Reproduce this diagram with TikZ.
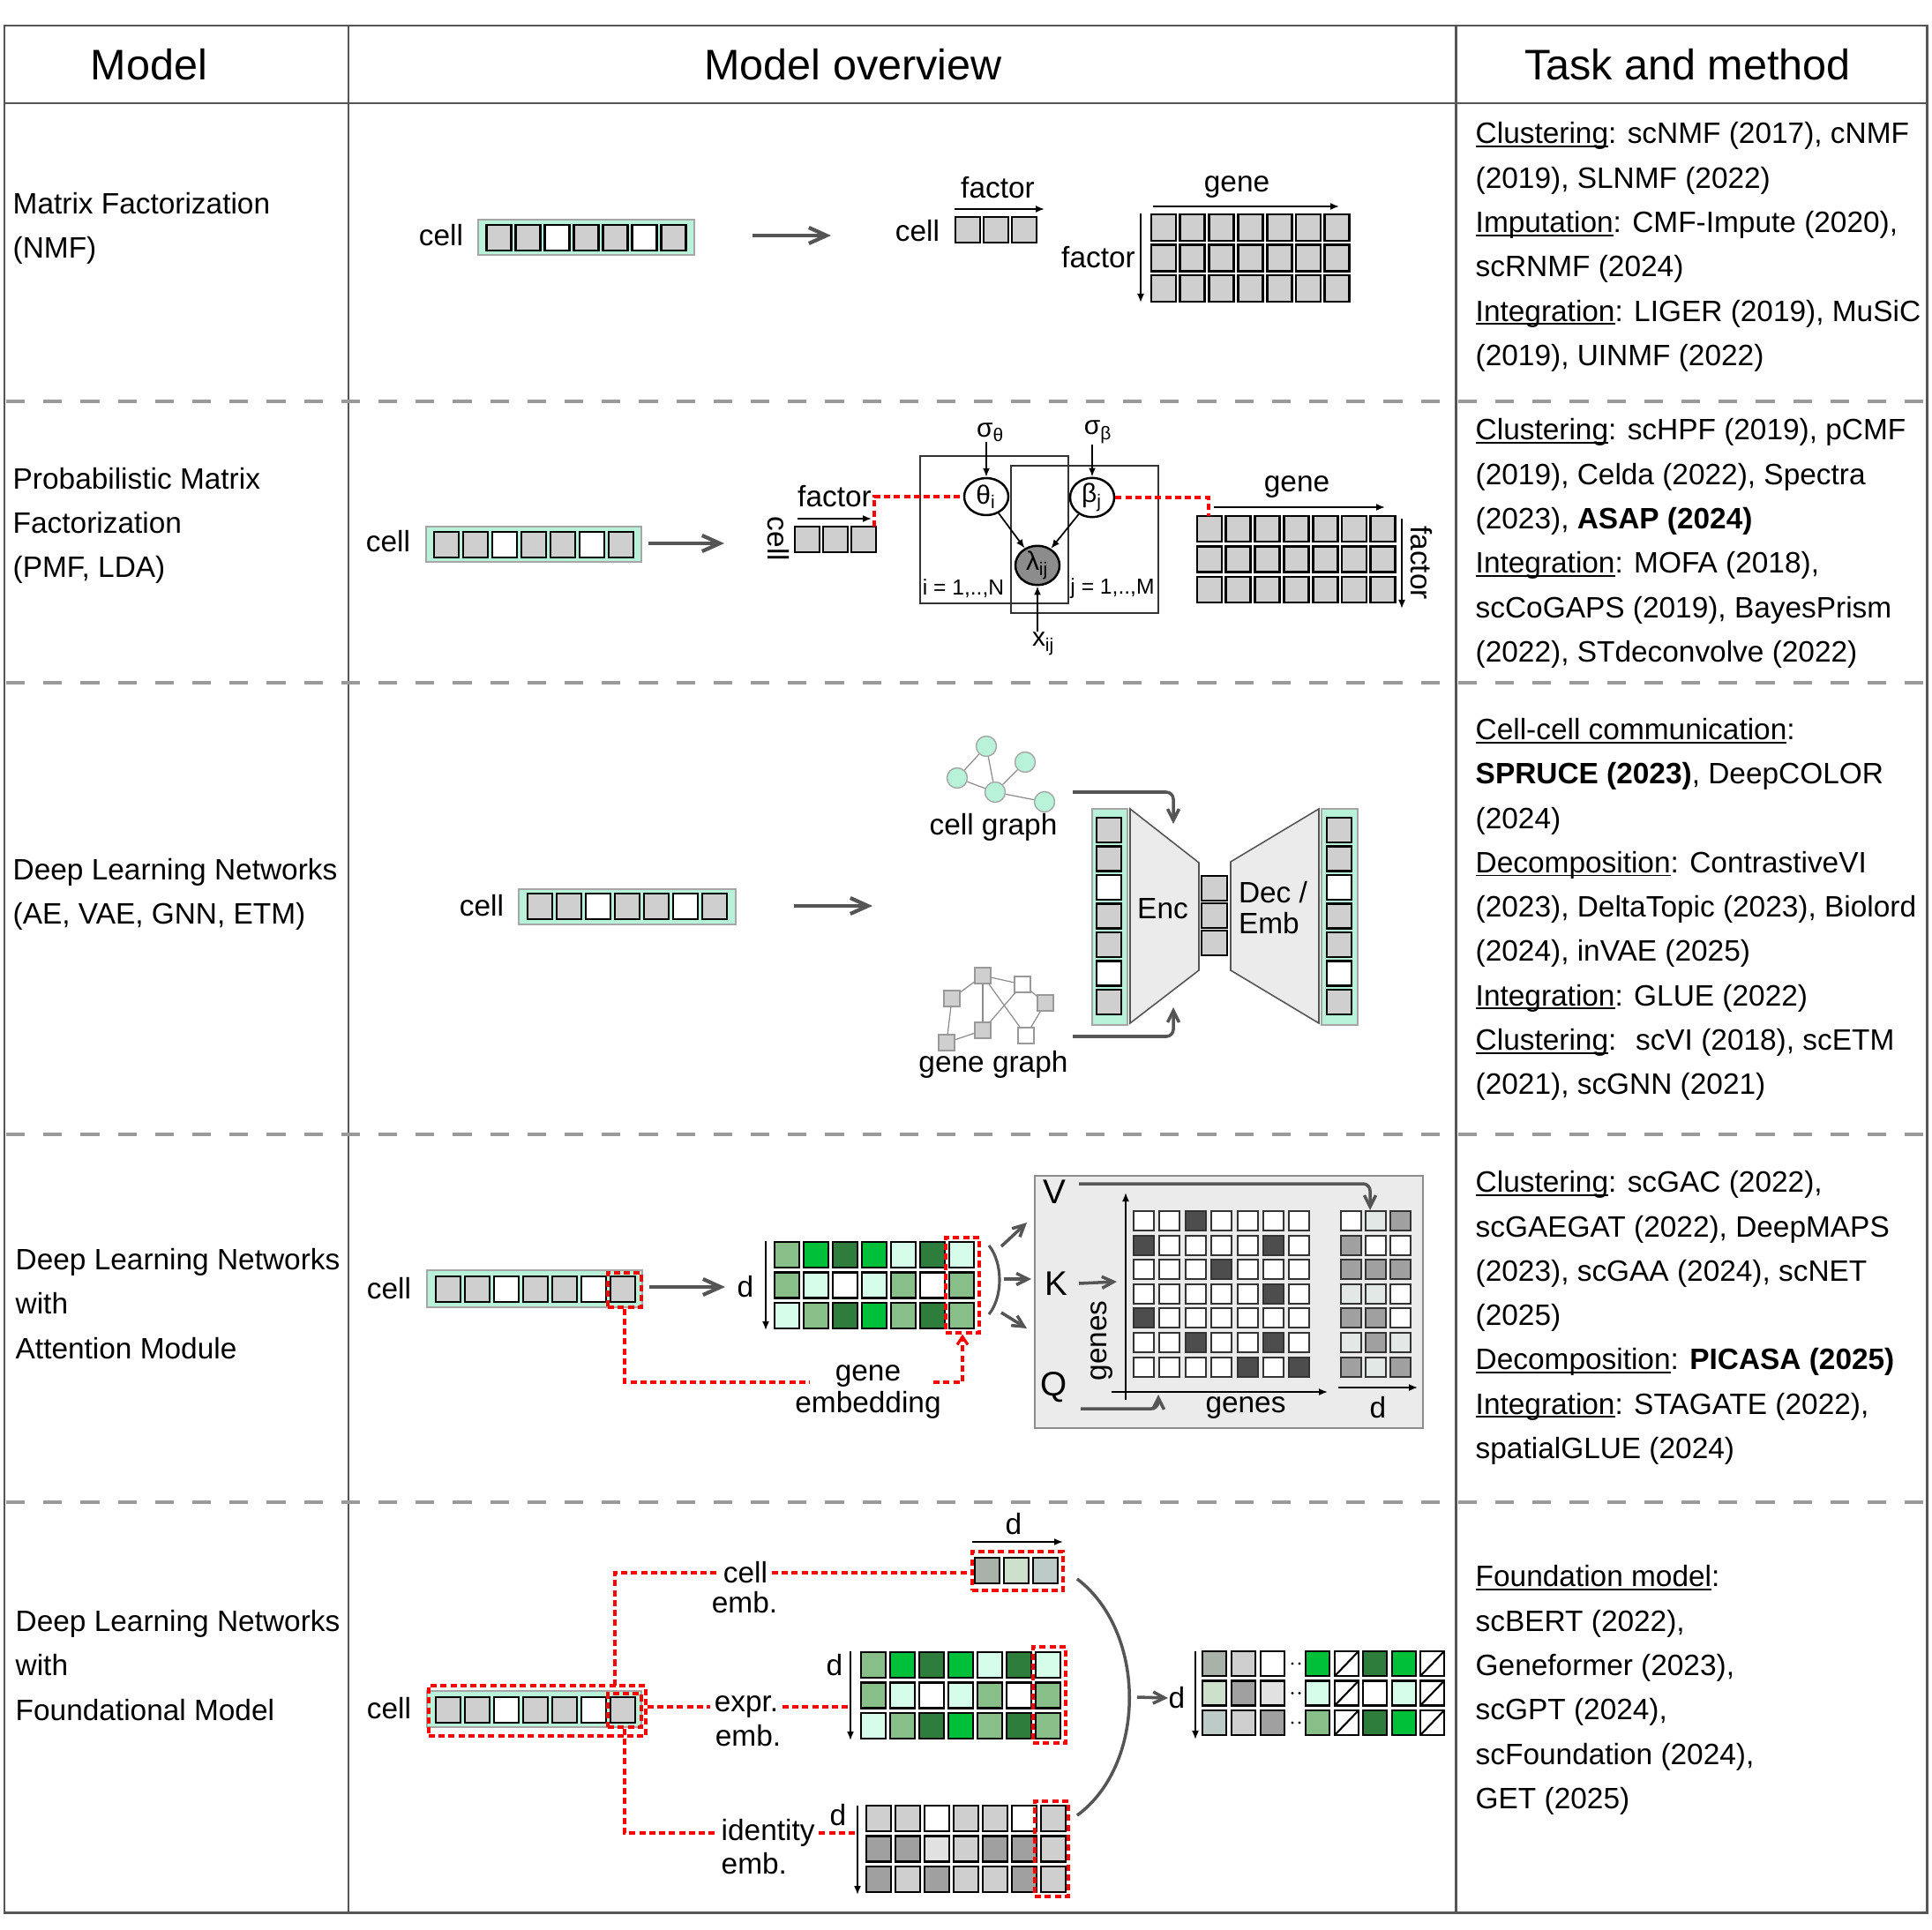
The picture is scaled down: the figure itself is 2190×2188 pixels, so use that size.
\documentclass[tikz,border=0pt]{standalone}
\usepackage{fontspec}
\setmainfont{Liberation Sans}
\usepackage{xcolor}
\usepackage{tikz}
\usetikzlibrary{arrows.meta}
\usetikzlibrary{shapes.geometric}
\usetikzlibrary{positioning}

\definecolor{mintbg}{HTML}{B8F2D8}
\definecolor{cgray}{HTML}{CFCFCF}
\definecolor{cmid}{HTML}{A0A0A0}
\definecolor{clight}{HTML}{E1E1E1}
\definecolor{vlight}{HTML}{E2E8E6}
\definecolor{gmed}{HTML}{88BF88}
\definecolor{gbri}{HTML}{00BF38}
\definecolor{gdark}{HTML}{2E7D3C}
\definecolor{gmint}{HTML}{D6FCEA}
\definecolor{adark}{HTML}{4D4D4D}
\definecolor{linegray}{HTML}{555555}
\definecolor{sepgray}{HTML}{9A9A9A}
\definecolor{panel}{HTML}{EBEBEB}
\definecolor{lamgray}{HTML}{8C8C8C}
\definecolor{ce1}{HTML}{A8B2A8}
\definecolor{ce2}{HTML}{CCE0CC}
\definecolor{ce3}{HTML}{BCCAC8}
\colorlet{aw}{white}
\colorlet{ak}{adark}

\newsavebox{\ulbox}
\newcommand{\ultxt}[1]{\sbox{\ulbox}{#1}\rlap{\rule[-0.12em]{\wd\ulbox}{0.055em}}\usebox{\ulbox}}

\begin{document}
\begin{tikzpicture}[x=0.01cm, y=-0.01cm,
  txt/.style={font=\fontsize{9.5}{14.3}\selectfont, inner sep=0pt},
  headtxt/.style={font=\fontsize{13.8}{16}\selectfont, inner sep=0pt},
  subtxt/.style={font=\fontsize{8.5}{10}\selectfont, inner sep=0pt},
  platetxt/.style={font=\fontsize{7}{8}\selectfont, inner sep=0pt},
  vkq/.style={font=\fontsize{11}{12}\selectfont, inner sep=0pt},
  emblab/.style={txt, inner xsep=0.04cm},
  cellbox/.style={draw=black, line width=0.8pt},
  attbox/.style={draw=black!80, line width=0.6pt},
  greenbg/.style={fill=mintbg, draw=black!35, line width=0.5pt},
  redbox/.style={draw=red, line width=0.9pt, dash pattern=on 2pt off 1.2pt, inner sep=0pt},
  reddash/.style={draw=red, line width=0.9pt, dash pattern=on 2pt off 1.2pt},
  bigarrow/.style={draw=linegray, line width=1.2pt, -{Straight Barb[length=2mm,width=1.8mm]}},
  grayarrow/.style={draw=linegray, line width=1pt, rounded corners=0.08cm, -{Straight Barb[length=1.3mm,width=1.3mm]}},
  thinarrow/.style={draw=black, line width=0.5pt, -{Latex[length=1mm,width=0.8mm]}},
  plate/.style={draw=black!80, line width=0.45pt},
  rv/.style={ellipse, draw=black, line width=0.7pt, minimum width=0.5cm, minimum height=0.42cm, inner sep=0pt, font=\fontsize{8.5}{10}\selectfont},
  gnode/.style={circle, fill=mintbg, draw=black!35, line width=0.4pt, minimum size=0.23cm, inner sep=0pt},
  gsq/.style={rectangle, draw=black!40, line width=0.4pt, minimum size=0.18cm, inner sep=0pt},
  gedge/.style={draw=black!45, line width=0.35pt},
  rowsep/.style={draw=sepgray, line width=1pt, dash pattern=on 6pt off 6pt},
  tableline/.style={draw=linegray, line width=0.85pt}
]
\useasboundingbox (0,0) rectangle (2190,2188);

% table
\draw[tableline] (5,29) rectangle (2184,2168);
\draw[tableline] (5,117) -- (2184,117);
\draw[tableline] (395,29) -- (395,2168);
\draw[tableline] (1650,29) -- (1650,2168);
\foreach \y in {455,774,1286,1703}
  \draw[rowsep] (7,\y) -- (2182,\y);

\node[headtxt] (hmodel) at (169,73) {Model};
\node[headtxt] (hview) at (967,73) {Model overview};
\node[headtxt] (htask) at (1913,73) {Task and method};

% model names
\node[txt, anchor=west, align=left] (m1) at (14,259) {Matrix Factorization\\(NMF)};
\node[txt, anchor=west, align=left] (m2) at (14,596) {Probabilistic Matrix\\Factorization\\(PMF, LDA)};
\node[txt, anchor=west, align=left] (m3) at (14,1014) {Deep Learning Networks\\(AE, VAE, GNN, ETM)};
\node[txt, anchor=west, align=left] (m4) at (17,1478) {Deep Learning Networks\\with\\Attention Module};
\node[txt, anchor=west, align=left] (m5) at (17,1888) {Deep Learning Networks\\with\\Foundational Model};

% tasks and methods
\node[txt, anchor=west, align=left] (t1) at (1672,280) {\ultxt{Clustering}: scNMF (2017), cNMF\\(2019), SLNMF (2022)\\\ultxt{Imputation}: CMF-Impute (2020),\\scRNMF (2024)\\\ultxt{Integration}: LIGER (2019), MuSiC\\(2019), UINMF (2022)};
\node[txt, anchor=west, align=left] (t2) at (1672,616) {\ultxt{Clustering}: scHPF (2019), pCMF\\(2019), Celda (2022), Spectra\\(2023), \textbf{ASAP (2024)}\\\ultxt{Integration}: MOFA (2018),\\scCoGAPS (2019), BayesPrism\\(2022), STdeconvolve (2022)};
\node[txt, anchor=west, align=left] (t3) at (1672,1031) {\ultxt{Cell-cell communication}:\\\textbf{SPRUCE (2023)}, DeepCOLOR\\(2024)\\\ultxt{Decomposition}: ContrastiveVI\\(2023), DeltaTopic (2023), Biolord\\(2024), inVAE (2025)\\\ultxt{Integration}: GLUE (2022)\\\ultxt{Clustering}: \ scVI (2018), scETM\\(2021), scGNN (2021)};
\node[txt, anchor=west, align=left] (t4) at (1672,1494) {\ultxt{Clustering}: scGAC (2022),\\scGAEGAT (2022), DeepMAPS\\(2023), scGAA (2024), scNET\\(2025)\\\ultxt{Decomposition}: \textbf{PICASA (2025)}\\\ultxt{Integration}: STAGATE (2022),\\spatialGLUE (2024)};
\node[txt, anchor=west, align=left] (t5) at (1672,1916) {\ultxt{Foundation model}:\\scBERT (2022),\\Geneformer (2023),\\scGPT (2024),\\scFoundation (2024),\\GET (2025)};

%row 1: NMF
\node[txt] (c1) at (500,267) {cell};
\draw[greenbg] (542,249) rectangle (787,289);
\foreach \i/\cc in {0/cgray,1/cgray,2/white,3/cgray,4/cgray,5/white,6/cgray}
  \draw[cellbox, fill=\cc] (551.5+\i*33,255) rectangle ++(28,29);
\coordinate (a1s) at (853,267);
\coordinate (a1e) at (942,267);
\draw[bigarrow] (a1s) -- (a1e);
\node[txt] (c1b) at (1040,262) {cell};
\foreach \i in {0,1,2}
  \draw[cellbox, fill=cgray] (1083+\i*32,246) rectangle ++(28,29);
\node[txt] (f1) at (1131,213) {factor};
\coordinate (f1s) at (1082,237);
\coordinate (f1e) at (1184,237);
\draw[thinarrow] (f1s) -- (f1e);
\node[txt] (g1) at (1402,212) {gene};
\coordinate (g1s) at (1307,234);
\coordinate (g1e) at (1518,234);
\draw[thinarrow] (g1s) -- (g1e);
\foreach \r in {0,1,2}
  \foreach \i in {0,...,6}
    \draw[cellbox, fill=cgray] (1305+\i*32.8,243+\r*34.5) rectangle ++(28,30);
\node[txt] (f1b) at (1245,292) {factor};
\coordinate (v1s) at (1293,242);
\coordinate (v1e) at (1293,343);
\draw[thinarrow] (v1s) -- (v1e);

%row 2: PMF
\node[txt] (c2) at (440,614) {cell};
\draw[greenbg] (483,597) rectangle (727,637);
\foreach \i/\cc in {0/cgray,1/cgray,2/white,3/cgray,4/cgray,5/white,6/cgray}
  \draw[cellbox, fill=\cc] (492+\i*33,603) rectangle ++(28,29);
\coordinate (a2s) at (735,616);
\coordinate (a2e) at (821,616);
\draw[bigarrow] (a2s) -- (a2e);
\node[txt, rotate=-90] (c2b) at (882,611) {cell};
\foreach \i in {0,1,2}
  \draw[cellbox, fill=cgray] (901+\i*32,597) rectangle ++(28,29);
\node[txt] (f2) at (946,563) {factor};
\coordinate (f2s) at (904,588);
\coordinate (f2e) at (988,588);
\draw[thinarrow] (f2s) -- (f2e);
\coordinate (fm2) at (991,597);

\draw[plate] (1043,517) rectangle (1211,684);
\draw[plate] (1146,528) rectangle (1313,695);
\node[rv] (th) at (1118,563) {θ\textsubscript{i}};
\node[rv] (be) at (1238,564) {β\textsubscript{j}};
\node[rv, fill=lamgray] (lam) at (1176,641) {λ\textsubscript{ij}};
\node[subtxt] (st) at (1123,490) {σ\textsubscript{θ}};
\node[subtxt] (sb) at (1245,490) {σ\textsubscript{β}};
\node[subtxt] (xij) at (1183,730) {x\textsubscript{ij}};
\node[platetxt] (pi) at (1092,667) {i = 1,..,N};
\node[platetxt] (pj) at (1261,667) {j = 1,..,M};
\draw[thinarrow] (th.north |- st.south) -- (th.north);
\draw[thinarrow] (be.north |- sb.south) -- (be.north);
\draw[thinarrow] (th) -- (lam);
\draw[thinarrow] (be) -- (lam);
\draw[thinarrow] (lam.south |- xij.north) -- (lam.south);

\node[txt] (g2) at (1470,552) {gene};
\coordinate (g2s) at (1376,575);
\coordinate (g2e) at (1570,575);
\draw[thinarrow] (g2s) -- (g2e);
\foreach \r in {0,1,2}
  \foreach \i in {0,...,6}
    \draw[cellbox, fill=cgray] (1357+\i*32.8,585+\r*34.5) rectangle ++(28,29);
\coordinate (gm2) at (1370,585);
\coordinate (v2s) at (1589,588);
\coordinate (v2e) at (1589,690);
\draw[thinarrow] (v2s) -- (v2e);
\node[txt, rotate=-90] (f2b) at (1611,638) {factor};

\draw[reddash] (fm2) |- (th.west);
\draw[reddash] (be.east) -| (gm2);

%row 3: deep networks
\node[txt] (c3) at (546,1027) {cell};
\draw[greenbg] (588,1008) rectangle (834,1048);
\foreach \i/\cc in {0/cgray,1/cgray,2/white,3/cgray,4/cgray,5/white,6/cgray}
  \draw[cellbox, fill=\cc] (598+\i*33,1013) rectangle ++(28,29);
\coordinate (a3s) at (900,1027);
\coordinate (a3e) at (989,1027);
\draw[bigarrow] (a3s) -- (a3e);

% cell graph
\node[gnode] (n1) at (1118,846) {};
\node[gnode] (n2) at (1085,882) {};
\node[gnode] (n3) at (1162,864) {};
\node[gnode] (n4) at (1128,898) {};
\node[gnode] (n5) at (1184,909) {};
\foreach \s/\t in {n1/n2,n1/n4,n2/n4,n4/n3,n4/n5}
  \draw[gedge] (\s) -- (\t);
\node[txt] (cg) at (1126,938) {cell graph};

% gene graph
\node[gsq, fill=cgray] (q1) at (1114,1106) {};
\node[gsq, fill=white] (q2) at (1159,1116) {};
\node[gsq, fill=cgray] (q3) at (1079,1132) {};
\node[gsq, fill=cgray] (q4) at (1185,1137) {};
\node[gsq, fill=cgray] (q5) at (1114,1168) {};
\node[gsq, fill=white] (q6) at (1163,1174) {};
\node[gsq, fill=cgray] (q7) at (1073,1182) {};
\foreach \s/\t in {q1/q2,q1/q3,q1/q5,q1/q6,q2/q5,q2/q4,q4/q6,q3/q7,q7/q5}
  \draw[gedge] (\s) -- (\t);
\node[txt] (gg) at (1126,1207) {gene graph};

% encoder / decoder
\draw[greenbg] (1238,917) rectangle (1278,1162);
\foreach \i/\cc in {0/cgray,1/cgray,2/white,3/cgray,4/cgray,5/white,6/cgray}
  \draw[cellbox, fill=\cc] (1243,927+\i*32.5) rectangle ++(28,28);
\draw[fill=panel, draw=linegray, line width=0.45pt] (1281,917) -- (1359,978) -- (1359,1100) -- (1281,1160) -- cycle;
\node[txt] (enc) at (1318,1030) {Enc};
\foreach \i in {0,1,2}
  \draw[cellbox, fill=cgray] (1362,993+\i*31) rectangle ++(29,28);
\draw[fill=panel, draw=linegray, line width=0.45pt] (1395,977) -- (1495,917) -- (1495,1160) -- (1395,1100) -- cycle;
\node[txt, align=left, font=\fontsize{9.5}{10}\selectfont] (dec) at (1443,1029) {Dec /\\Emb};
\draw[greenbg] (1498,917) rectangle (1539,1162);
\foreach \i/\cc in {0/cgray,1/cgray,2/white,3/cgray,4/cgray,5/white,6/cgray}
  \draw[cellbox, fill=\cc] (1504,927+\i*32.5) rectangle ++(28,28);

\coordinate (cgo) at (1216,898);
\coordinate (enct) at (1330,934);
\coordinate (ggo) at (1216,1175);
\coordinate (encb) at (1330,1142);
\draw[grayarrow] (cgo) -| (enct);
\draw[grayarrow] (ggo) -| (encb);

%row 4: attention
\node[txt] (c4) at (441,1461) {cell};
\draw[greenbg] (484,1440) rectangle (728,1482);
\foreach \i/\cc in {0/cgray,1/cgray,2/white,3/cgray,4/cgray,5/white,6/cgray}
  \draw[cellbox, fill=\cc] (494+\i*33,1447) rectangle ++(28,29);
\node[redbox, minimum width=0.38cm, minimum height=0.39cm] (rc4) at (708,1462.5) {};
\coordinate (a4s) at (736,1459);
\coordinate (a4e) at (822,1459);
\draw[bigarrow] (a4s) -- (a4e);
\node[txt] (d4) at (845,1459) {d};
\coordinate (v4s) at (868,1407);
\coordinate (v4e) at (868,1508);
\draw[thinarrow] (v4s) -- (v4e);
\foreach \r/\row in {0/{gmed,gbri,gdark,gbri,gmint,gdark,gmint},1/{gmed,gmint,white,gmint,gmed,white,gmed},2/{gmint,gmed,gdark,gbri,gmed,gdark,gmed}}
  \foreach \cc [count=\c from 0] in \row
    \draw[cellbox, fill=\cc] (878+\c*33,1408+\r*34.5) rectangle ++(28,29);
\node[redbox, minimum width=0.38cm, minimum height=1.08cm] (rb4) at (1091,1457) {};

\node[txt] (ge1) at (984,1560) {gene};
\node[txt] (ge2) at (984,1593) {embedding};
\coordinate (gel) at (918,1567);
\coordinate (ger) at (1058,1567);
\draw[reddash] (rc4.south) |- (gel);
\draw[reddash, -{Straight Barb[length=0.9mm,width=1.2mm]}] (ger) -| (rb4.south);

\draw[draw=linegray, line width=0.9pt] (1121,1412) .. controls (1137,1432) and (1137,1470) .. (1121,1490);
\coordinate (bv1) at (1135,1413);
\coordinate (bv2) at (1164,1386);
\coordinate (bk1) at (1138,1450);
\coordinate (bk2) at (1169,1450);
\coordinate (bq1) at (1135,1488);
\coordinate (bq2) at (1164,1506);
\draw[grayarrow] (bv1) -- (bv2);
\draw[grayarrow] (bk1) -- (bk2);
\draw[grayarrow] (bq1) -- (bq2);

% attention panel
\draw[fill=panel, draw=black!45, line width=0.6pt] (1173,1333) rectangle (1613,1619);
\node[vkq] (V) at (1195,1351) {V};
\node[vkq] (K) at (1197,1455) {K};
\node[vkq] (Q) at (1195,1573) {Q};
\coordinate (vo) at (1223,1342);
\coordinate (vi) at (1553,1372);
\draw[grayarrow] (vo) -| (vi);
\coordinate (ki) at (1266,1453);
\draw[grayarrow] (K.east -| vo) -- (ki);
\coordinate (qo) at (1225,1597);
\coordinate (qi) at (1313,1581);
\draw[grayarrow] (qo) -| (qi);

\coordinate (ax0) at (1276,1587);
\coordinate (ax1) at (1276,1352);
\coordinate (ay0) at (1260,1578);
\coordinate (ay1) at (1505,1578);
\draw[thinarrow] (ax0) -- (ax1);
\draw[thinarrow] (ay0) -- (ay1);
\node[txt, rotate=90] (gn1) at (1249,1520) {genes};
\node[txt] (gn2) at (1412,1596) {genes};
\coordinate (ad0) at (1517,1573);
\coordinate (ad1) at (1607,1573);
\draw[thinarrow] (ad0) -- (ad1);
\node[txt] (dd) at (1562,1596) {d};

\foreach \r/\row in {0/{aw,aw,ak,aw,aw,aw,aw},1/{ak,aw,aw,aw,aw,ak,aw},2/{aw,aw,aw,ak,aw,aw,aw},3/{aw,aw,aw,aw,aw,ak,aw},4/{ak,aw,aw,aw,aw,aw,aw},5/{aw,aw,ak,aw,aw,ak,aw},6/{aw,aw,aw,aw,ak,aw,ak}}
  \foreach \cc [count=\c from 0] in \row
    \draw[attbox, fill=\cc] (1285+\c*29.4,1373+\r*27.6) rectangle ++(23,22);
\foreach \r/\row in {0/{white,vlight,cmid},1/{cmid,white,white},2/{cmid,cmid,cmid},3/{vlight,vlight,white},4/{cmid,cmid,white},5/{vlight,cmid,vlight},6/{cmid,vlight,cmid}}
  \foreach \cc [count=\c from 0] in \row
    \draw[attbox, fill=\cc] (1520+\c*28,1373+\r*27.6) rectangle ++(23,22);

%row 5: foundation model
\node[txt] (c5) at (441,1937) {cell};
\draw[greenbg] (484,1917) rectangle (727,1958);
\foreach \i/\cc in {0/cgray,1/cgray,2/white,3/cgray,4/cgray,5/white,6/cgray}
  \draw[cellbox, fill=\cc] (494+\i*33,1924) rectangle ++(28,29);
\node[redbox, minimum width=2.46cm, minimum height=0.57cm] (ro5) at (609,1939.5) {};
\node[redbox, minimum width=0.38cm, minimum height=0.38cm] (rc5) at (708,1939) {};
\coordinate (ro5t) at (697,1911);

% cell emb.
\node[emblab] (ce1) at (845,1783) {cell};
\node[emblab] (ce2) at (844,1817) {emb.};
\foreach \i/\cc in {0/ce1,1/ce2,2/ce3}
  \draw[cellbox, fill=\cc] (1105+\i*33,1766) rectangle ++(28,29);
\node[redbox, minimum width=1.03cm, minimum height=0.44cm] (cem) at (1153.5,1781) {};
\node[txt] (d5a) at (1149,1728) {d};
\coordinate (d5s) at (1102,1748);
\coordinate (d5e) at (1205,1748);
\draw[thinarrow] (d5s) -- (d5e);
\draw[reddash] (ro5t) |- (ce1.west);
\draw[reddash] (ce1.east) -- (ce1.east -| cem.west);

% expr. emb.
\node[emblab] (ex1) at (846,1935) {expr.};
\node[emblab] (ex2) at (848,1968) {emb.};
\node[txt] (d5b) at (946,1888) {d};
\coordinate (ex5t) at (964,1872);
\coordinate (ex5b) at (964,1973);
\draw[thinarrow] (ex5t) -- (ex5b);
\foreach \r/\row in {0/{gmed,gbri,gdark,gbri,gmint,gdark,gmint},1/{gmed,gmint,white,gmint,gmed,white,gmed},2/{gmint,gmed,gdark,gbri,gmed,gdark,gmed}}
  \foreach \cc [count=\c from 0] in \row
    \draw[cellbox, fill=\cc] (976+\c*33,1873+\r*34.5) rectangle ++(28,29);
\node[redbox, minimum width=0.37cm, minimum height=1.09cm] (re5) at (1189.5,1921.5) {};
\draw[reddash] (ro5.east |- ex1.west) -- (ex1.west);
\draw[reddash] (ex1.east) -- (ex1.east -| ex5t);

% identity emb.
\node[emblab, anchor=west] (id1) at (813,2078) {identity};
\node[emblab, anchor=west] (id2) at (813,2113) {emb.};
\node[txt] (d5c) at (950,2058) {d};
\coordinate (id5t) at (972,2047);
\coordinate (id5b) at (972,2148);
\draw[thinarrow] (id5t) -- (id5b);
\foreach \r/\row in {0/{cgray,cgray,white,cgray,cgray,white,cgray},1/{cmid,cmid,clight,cgray,cmid,cmid,cgray},2/{cmid,cgray,cmid,cgray,cgray,cmid,cgray}}
  \foreach \cc [count=\c from 0] in \row
    \draw[cellbox, fill=\cc] (982+\c*33,2047+\r*34.5) rectangle ++(28,29);
\node[redbox, minimum width=0.38cm, minimum height=1.08cm] (ri5) at (1192,2096) {};
\draw[reddash] (rc5.south) |- (id1.west);
\draw[reddash] (id1.east) -- (id1.east -| id5t);

% merge
\coordinate (cu1) at (1221,1790);
\coordinate (cu2) at (1221,2058);
\draw[draw=linegray, line width=1pt] (cu1) .. controls (1300,1850) and (1300,2000) .. (cu2);
\node[txt] (d5o) at (1334,1925) {d};
\coordinate (cu3) at (1289,1924);
\draw[grayarrow] (cu3) -- (d5o.west);
\coordinate (o5t) at (1355,1872);
\coordinate (o5b) at (1355,1972);
\draw[thinarrow] (o5t) -- (o5b);
\foreach \r/\a/\b/\c/\d/\e/\f in {0/ce1/cgray/white/gbri/gdark/gbri,1/ce2/cmid/clight/gmint/white/gmint,2/ce3/cgray/cmid/gmed/gdark/gbri} {
  \draw[cellbox, fill=\a] (1363,1872+\r*33.5) rectangle ++(27,28);
  \draw[cellbox, fill=\b] (1396,1872+\r*33.5) rectangle ++(27,28);
  \draw[cellbox, fill=\c] (1429,1872+\r*33.5) rectangle ++(27,28);
  \fill (1465,1886+\r*33.5) circle (1.6);
  \fill (1473,1886+\r*33.5) circle (1.6);
  \draw[cellbox, fill=\d] (1480,1872+\r*33.5) rectangle ++(27,28);
  \draw[cellbox, fill=\e] (1545,1872+\r*33.5) rectangle ++(27,28);
  \draw[cellbox, fill=\f] (1578,1872+\r*33.5) rectangle ++(27,28);
  \foreach \sx in {1513,1610} {
    \draw[cellbox, fill=white] (\sx,1872+\r*33.5) rectangle ++(27,28);
    \draw[black, line width=0.6pt] (\sx,1900+\r*33.5) -- ++(27,-28);
  }
}

\end{tikzpicture}
\end{document}
